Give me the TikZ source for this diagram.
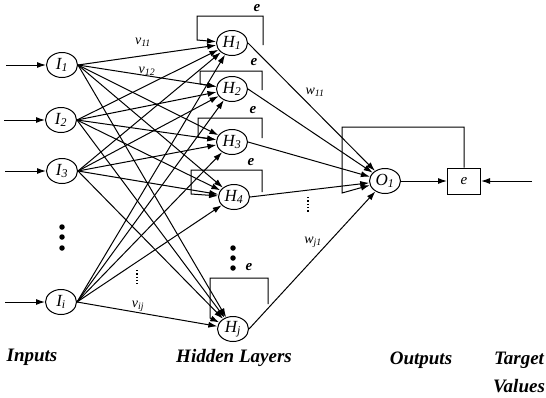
\documentclass[tikz,border=0pt]{standalone}
\usepackage{fontspec}
\setmainfont{Liberation Serif}
\usetikzlibrary{arrows.meta,shapes.geometric,calc}

\begin{document}
\begin{tikzpicture}[x=1pt,y=-1pt,line width=1pt,
  neuron/.style={draw,ellipse,minimum width=31pt,minimum height=25pt,inner sep=0pt,
    font=\fontsize{17}{17}\selectfont\itshape},
  errbox/.style={draw,rectangle,minimum width=33pt,minimum height=26pt,inner sep=0pt,
    font=\fontsize{15}{15}\selectfont\itshape},
  arr/.style={-{Latex[length=9pt,width=6pt]}},
  wlab/.style={font=\fontsize{14}{14}\selectfont\itshape,inner sep=0pt},
  elab/.style={font=\fontsize{15}{15}\selectfont\bfseries\itshape,inner sep=0pt},
  caption/.style={font=\fontsize{19}{19}\selectfont\bfseries\itshape,inner sep=0pt},
  bigdot/.style={fill,circle,inner sep=0pt,minimum size=5.5pt},
  gap/.style={dotted,line width=1.3pt}]

\useasboundingbox (0,0) rectangle (546,397);

% input layer
\node[neuron] (I1) at (62,65)  {I\textsubscript{1}};
\node[neuron] (I2) at (61,120) {I\textsubscript{2}};
\node[neuron] (I3) at (62,171) {I\textsubscript{3}};
\node[neuron] (Ii) at (61,302) {I\textsubscript{i}};

% hidden layer
\node[neuron] (H1) at (232,43)  {H\textsubscript{1}};
\node[neuron] (H2) at (232,89)  {H\textsubscript{2}};
\node[neuron] (H3) at (232,142) {H\textsubscript{3}};
\node[neuron] (H4) at (234,197) {H\textsubscript{4}};
\node[neuron] (Hj) at (233,329) {H\textsubscript{j}};

% output layer and error block
\node[neuron] (O1) at (385,181) {O\textsubscript{1}};
\node[errbox] (E) at (464,181) {e};

% external inputs
\coordinate (x1) at (6,65);
\coordinate (x2) at (4,120);
\coordinate (x3) at (5,171);
\coordinate (xi) at (5,302);
\foreach \a/\b in {x1/I1,x2/I2,x3/I3,xi/Ii}
  \draw[arr] (\a) -- (\b);

% input -> hidden weights
\foreach \i in {I1,I2,I3,Ii}
  \foreach \h in {H1,H2,H3,H4,Hj}
    \draw[arr] (\i.east) -- (\h);

% hidden -> output weights
\foreach \h in {H1,H2,H3,H4,Hj}
  \draw[arr] (\h.east) -- (O1);

% output -> error, target -> error
\coordinate (tgt) at (532,181);
\draw[arr] (O1) -- (E);
\draw[arr] (tgt) -- (E);

% recurrent error loops on the hidden units
\coordinate (r1) at (263,45);  \coordinate (c1) at (197,16);
\coordinate (r2) at (262,90);  \coordinate (c2) at (200,71);
\coordinate (r3) at (262,138); \coordinate (c3) at (198,118);
\coordinate (r4) at (262,192); \coordinate (c4) at (191,170);
\coordinate (rj) at (268,304); \coordinate (cj) at (210,278);
\draw[arr] (r1) |- (c1) -- ++(0,24) -- (H1);
\draw[arr] (r2) |- (c2) -- ++(0,13) -- (H2);
\draw[arr] (r3) |- (c3) -- ++(0,19) -- (H3);
\draw[arr] (r4) |- (c4) -- ++(0,24) -- (H4);
\draw[arr] (rj) |- (cj) -- ++(0,40) -- (Hj);

% error feedback to the output unit
\coordinate (co) at (342,127);
\draw[arr] (E.north) |- (co) -- ++(0,66) -- (O1);

% loop labels
\node[elab] (e1) at (257,8)   {e};
\node[elab] (e2) at (254,62)  {e};
\node[elab] (e3) at (253,110) {e};
\node[elab] (e4) at (251,162) {e};
\node[elab] (ej) at (249,267) {e};

% weight labels
\node[wlab] (v11) at (143,42)  {v\textsubscript{11}};
\node[wlab] (v12) at (147,71)  {v\textsubscript{12}};
\node[wlab] (vij) at (138,306) {v\textsubscript{ij}};
\node[wlab] (w11) at (315,92)  {w\textsubscript{11}};
\node[wlab] (wj1) at (313,242) {w\textsubscript{j1}};

% omitted units and weights
\foreach \y in {227,237,248} \node[bigdot] at (62,\y) {};
\foreach \y in {248,258,268} \node[bigdot] at (233,\y) {};
\draw[gap] (137,270) -- (137,284);
\draw[gap] (308,197) -- (308,212);

% layer captions
\node[caption] (cin)  at (32,357)  {Inputs};
\node[caption] (chid) at (234,358) {Hidden Layers};
\node[caption] (cout) at (421,360) {Outputs};
\node[caption] (ctg1) at (519,360) {Target};
\node[caption] (ctg2) at (519,386) {Values};
\end{tikzpicture}
\end{document}
